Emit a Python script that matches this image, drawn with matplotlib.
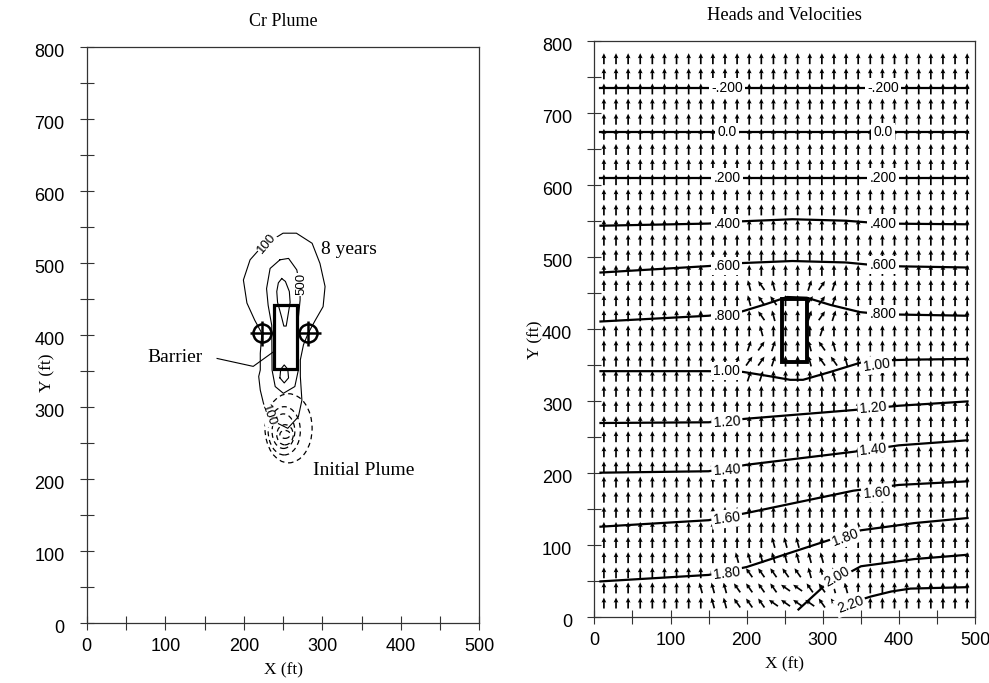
import numpy as np
import matplotlib.pyplot as plt
from matplotlib.patches import Ellipse, Rectangle
from matplotlib.transforms import ScaledTranslation

# ---------------- left panel data (Cr plume) ----------------
C100_X = [229, 250, 267, 287, 297, 303.5, 301, 291, 282, 276, 272, 272, 274, 269.5, 256,
          243, 231, 225, 221, 219, 221, 221, 223, 214, 204, 199.5, 208, 221, 229]
C100_Y = [527, 541, 541, 527, 499, 467, 439, 420, 402, 386, 365, 342, 309, 286, 270,
          277, 286, 305, 323, 342, 351, 374, 402, 420, 444, 476, 504, 520, 527]
C500_X = [246, 257, 267.5, 271.7, 271.7, 268, 269.5, 265, 250.4, 240, 236, 235.6, 231, 229, 233.5, 246]
C500_Y = [504, 506, 490, 466, 448, 407, 351, 328, 318.6, 328, 351, 413, 441, 464, 492, 504]
CTOP_X = [248.3, 253, 258, 259, 256, 254, 251, 248, 243, 242, 244, 248.3]
CTOP_Y = [478, 474, 460, 445, 425, 412, 412, 425, 445, 460, 472, 478]
CBOT_X = [246, 247, 251.5, 256, 257, 251.5, 246]
CBOT_Y = [340, 352, 358, 352, 340, 333, 340]

# initial plume (dashed) rings: centre x, centre y, width, height
PLUME_CX = [257, 251.5, 250.5, 252.5, 252.5]
PLUME_CY = [270, 266.5, 266, 261, 261.5]
PLUME_W = [60, 41, 29, 21, 13]
PLUME_H = [96, 67, 48, 28, 11]

BARRIER_L = (238, 352, 30, 89)       # x, y, width, height
WELLS_X = [223, 281.5]
WELLS_Y = [402, 402]

# ---------------- right panel data (heads and velocities) ----------------
HEAD_LINES = {
    '-.200': ([8, 490], [735, 735]),
    '0.0': ([8, 490], [673.6, 673.6]),
    '.200': ([8, 490], [610, 610]),
    '.400': ([8, 150, 190, 260, 330, 380, 490], [543, 546, 549, 552, 550, 546, 545]),
    '.600': ([8, 150, 190, 260, 330, 380, 490], [478, 487, 491, 494, 492, 487, 485]),
    '.800': ([8, 150, 194, 225, 253, 279, 310, 349, 380, 490],
             [410, 418, 424, 434, 444, 443, 433, 423, 420, 418]),
    '1.00': ([8, 150, 195, 230, 257, 274, 310, 353, 380, 415, 490],
             [341, 341, 340, 334, 329, 329, 340, 354, 356, 357, 358]),
    '1.20': ([8, 150, 200, 340, 400, 490], [269, 270, 275, 287, 293, 299]),
    '1.40': ([8, 150, 200, 340, 400, 490], [200, 202, 211, 229, 238, 245]),
    '1.60': ([8, 150, 200, 340, 400, 490], [125, 134, 144, 175, 183, 188]),
    '1.80': ([8, 150, 200, 310, 350, 420, 490], [49, 58, 69, 107, 120, 130, 137]),
    '2.00': ([268, 301, 350, 420, 490], [10, 42, 70, 80, 86]),
    '2.20': ([330, 363, 390, 415, 490], [17, 28, 35, 39, 41]),
}
LABEL_TEXT = ['-.200', '-.200', '0.0', '0.0', '.200', '.200', '.400', '.400', '.600', '.600',
              '.800', '.800', '1.00', '1.00', '1.20', '1.20', '1.40', '1.40', '1.60', '1.60',
              '1.80', '1.80', '2.00', '2.20']
LABEL_X = [174, 379, 174, 379, 174, 379, 174, 379, 174, 379,
           174, 379, 174, 371, 174, 366, 174, 366, 174, 371, 174, 330, 318, 336]
LABEL_Y = [735, 735, 673.6, 673.6, 610, 610, 546, 546, 487, 488,
           418, 420, 341, 350, 271, 290, 204, 232, 136, 172, 60, 110, 55, 17]
LABEL_ROT = [0, 0, 0, 0, 0, 0, 0, 0, 0, 0,
             0, 0, 0, 8, 4, 5, 4, 6, 7, 5, 7, 20, 30, 20]

BARRIER_R = (247, 354, 32, 87)

ARROW_X = np.linspace(12.5, 489.5, 31)
ARROW_Y = np.linspace(19, 775, 37)
# arrow direction codes, top row first: '.' up, r/R lean right, l/L/W lean left
ANGLE_CODE = {'.': 90, 'r': 72, 'R': 55, 'l': 105, 'L': 125, 'W': 145}
DIRECTION_MAP = [
    "...............................",
    "...............................",
    "...............................",
    "...............................",
    "...............................",
    "...............................",
    "...............................",
    "...............................",
    "...............................",
    "...............................",
    "...............................",
    "...............................",
    "...............................",
    "...............................",
    "...............................",
    "............lLl..rRr...........",
    "............lLL..RRr...........",
    ".............Ll..rRr...........",
    ".............l....r............",
    "............rRr..lLl...........",
    "...........rRRr..lLLl..........",
    "............rr....ll...........",
    "...............................",
    "...............................",
    "...............................",
    "...............................",
    "...............................",
    "...............................",
    "...............................",
    "...............................",
    "...............................",
    "...............................",
    "..............lll..............",
    "...........llllllll............",
    ".........lllLLLLLlll...........",
    "........lllLLLLWWLLll..........",
    ".........llLLLWWWWLLl..........",
]

SERIF = 'Liberation Serif'
SANS = 'Liberation Sans'

fig = plt.figure(figsize=(9.89, 6.83), dpi=100)
axL = fig.add_axes([0.0877, 0.0883, 0.397, 0.8433])
axR = fig.add_axes([0.601, 0.0971, 0.385, 0.8433])
shift_down = ScaledTranslation(0, -3.5 / 100, fig.dpi_scale_trans)

for ax in (axL, axR):
    ax.set_xlim(0, 500)
    ax.set_ylim(0, 800)
    ax.set_xticks(range(0, 501, 100))
    ax.set_xticks(range(50, 500, 100), minor=True)
    ax.set_yticks(range(0, 801, 100))
    ax.set_yticks(range(50, 800, 100), minor=True)
    ax.tick_params(which='both', direction='inout', length=10, width=0.8, color='#333333')
    ax.tick_params(axis='y', labelsize=13, pad=11)
    ax.tick_params(axis='x', labelsize=13, pad=6)
    for lab in ax.get_xticklabels() + ax.get_yticklabels():
        lab.set_family(SANS)
    for lab in ax.get_yticklabels():
        lab.set_transform(lab.get_transform() + shift_down)
    for sp in ax.spines.values():
        sp.set_linewidth(0.9)
        sp.set_color('#333333')
    ax.set_xlabel('X (ft)', family=SERIF, fontsize=12.5)
    ax.set_ylabel('Y (ft)', family=SERIF, fontsize=12.5)
    ax.xaxis.set_label_coords(0.5, -0.069)

axL.yaxis.set_label_coords(-0.081, 0.434)
axR.yaxis.set_label_coords(-0.135, 0.48)

# ---- left panel ----
axL.set_title('Cr Plume', family=SERIF, fontsize=13, pad=15)
for xs, ys in [(C100_X, C100_Y), (C500_X, C500_Y), (CTOP_X, CTOP_Y), (CBOT_X, CBOT_Y)]:
    axL.plot(xs, ys, color='black', lw=0.8)
for cx, cy, w, h in zip(PLUME_CX, PLUME_CY, PLUME_W, PLUME_H):
    axL.add_patch(Ellipse((cx, cy), w, h, fill=False, ls=(0, (4, 3)), lw=0.9, color='black'))
axL.add_patch(Rectangle(BARRIER_L[:2], BARRIER_L[2], BARRIER_L[3], fill=False, lw=2.3, color='black', zorder=4))
axL.plot(WELLS_X, WELLS_Y, 'o', ms=13, mfc='none', mec='black', mew=1.8, zorder=5)
axL.plot(WELLS_X, WELLS_Y, '+', ms=18, mec='black', mew=1.8, zorder=5)

axL.text(229, 527, '100', fontsize=9.5, family=SANS, rotation=50, ha='center', va='center',
         bbox=dict(fc='white', ec='none', pad=0.3))
axL.text(274, 470, '500', fontsize=9.5, family=SANS, rotation=90, ha='center', va='center',
         bbox=dict(fc='white', ec='none', pad=0.3))
axL.text(231, 288, '100', fontsize=9.5, family=SANS, rotation=-70, ha='center', va='center',
         bbox=dict(fc='white', ec='none', pad=0.3))
axL.text(334, 519, '8 years', family=SERIF, fontsize=14, ha='center', va='center')
axL.text(113, 369, 'Barrier', family=SERIF, fontsize=14, ha='center', va='center')
axL.plot([166, 212, 240], [367, 356, 378], color='black', lw=0.8)
axL.text(353, 212, 'Initial Plume', family=SERIF, fontsize=14, ha='center', va='center')

# ---- right panel ----
axR.set_title('Heads and Velocities', family=SERIF, fontsize=13.3, pad=15)
X, Y = np.meshgrid(ARROW_X, ARROW_Y)
ang = np.deg2rad(np.array([[ANGLE_CODE[c] for c in row] for row in DIRECTION_MAP[::-1]]))
axR.quiver(X, Y, np.cos(ang), np.sin(ang), angles='uv', pivot='middle',
           scale=9.1, scale_units='inches', units='dots', width=1.7,
           headwidth=2.8, headlength=3.0, headaxislength=2.7, color='black', zorder=2)
for name, (xs, ys) in HEAD_LINES.items():
    axR.plot(xs, ys, color='black', lw=1.6, zorder=3)
for t, x, y, r in zip(LABEL_TEXT, LABEL_X, LABEL_Y, LABEL_ROT):
    axR.text(x, y, t, fontsize=10, family=SANS, rotation=r, ha='center', va='center', zorder=4,
             bbox=dict(fc='white', ec='none', pad=1.5))
axR.add_patch(Rectangle(BARRIER_R[:2], BARRIER_R[2], BARRIER_R[3], fill=False, lw=2.8,
                        color='black', zorder=5))

fig.savefig('out.png', dpi=100)
